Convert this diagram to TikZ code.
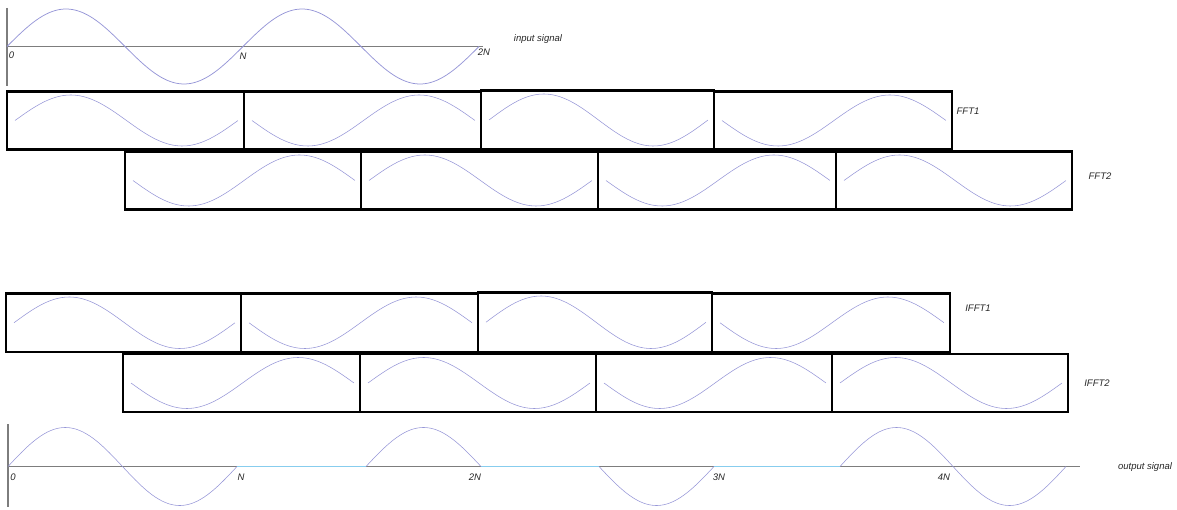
\documentclass[tikz,border=0pt]{standalone}
\usepackage{fontspec}
\setmainfont{Liberation Sans}
\definecolor{wavec}{RGB}{150,150,215}
\definecolor{axisc}{RGB}{125,125,125}
\definecolor{cyanc}{RGB}{135,205,238}
\newcommand{\wbox}[6]{%
  \node[fbox,minimum width={#3-#2},minimum height={#5-#4}] (#1) at ({(#2+#3)/2},{(#4+#5)/2}) {};
  \draw[wave] plot[domain=0:1,samples=80,smooth] ({#2+8+(#3-#2-14)*\x},{(#4+#5)/2-(#6)*((#5-#4)/2-3.5)*sin(360*\x)});
}
\begin{document}
\begin{tikzpicture}[x=1pt,y=-1pt,
  fbox/.style={draw=black,line width=2.7pt,inner sep=0pt},
  wave/.style={draw=wavec,line width=0.55pt},
  axisl/.style={draw=axisc,line width=1.1pt},
  cyanl/.style={draw=cyanc,line width=1.3pt},
  lbl/.style={font=\fontsize{9.5}{11}\selectfont\itshape,inner sep=0pt,text=black!85}]
\useasboundingbox (0,0) rectangle (1177,510);

% ---------- input signal ----------
\coordinate (iv1) at (7,8);
\coordinate (iv2) at (7,86);
\coordinate (ih1) at (7,46.5);
\coordinate (ih2) at (483,46.5);
\draw[axisl] (iv1) -- (iv2);
\draw[axisl] (ih1) -- (ih2);
\draw[wave,line width=0.75pt] plot[domain=7:479,samples=160,smooth] (\x,{46.5-37.5*sin((\x-7)/236*360)});
\node[lbl] (i0) at (11.5,55) {0};
\node[lbl] (iN) at (243,56.5) {N};
\node[lbl] (i2N) at (484,52) {2N};
\node[lbl] (itxt) at (538,39) {input signal};

% ---------- FFT1 ----------
\wbox{fa1}{7}{244}{91.5}{149.5}{1}
\wbox{fa2}{244}{481}{91.5}{149.5}{-1}
\wbox{fa3}{481}{714}{90.5}{149.5}{1}
\wbox{fa4}{714}{952}{91.5}{149.5}{-1}
\node[lbl] (fft1) at (968,111) {FFT1};

% ---------- FFT2 ----------
\wbox{fb1}{125}{361}{151.5}{209.5}{-1}
\wbox{fb2}{361}{598}{151.5}{209.5}{1}
\wbox{fb3}{598}{836}{151.5}{209.5}{-1}
\wbox{fb4}{836}{1072}{151.5}{209.5}{1}
\node[lbl] (fft2) at (1100,176.5) {FFT2};

% ---------- IFFT1 ----------
\wbox{ga1}{6}{241}{293.5}{352}{1}
\wbox{ga2}{241}{478}{293.5}{352}{-1}
\wbox{ga3}{478}{712}{292.5}{352}{1}
\wbox{ga4}{712}{950}{293.5}{352}{-1}
\node[lbl] (ifft1) at (978,308) {IFFT1};

% ---------- IFFT2 ----------
\wbox{gb1}{123}{360}{354}{412}{-1}
\wbox{gb2}{360}{596}{354}{412}{1}
\wbox{gb3}{596}{832}{354}{412}{-1}
\wbox{gb4}{832}{1068}{354}{412}{1}
\node[lbl] (ifft2) at (1097,383) {IFFT2};

% ---------- output signal ----------
\coordinate (ov1) at (8,424);
\coordinate (ov2) at (8,507);
\coordinate (oh1) at (8,466.5);
\coordinate (oh2) at (1080,466.5);
\coordinate (c1a) at (237,466.5);
\coordinate (c1b) at (366,466.5);
\coordinate (c2a) at (481,466.5);
\coordinate (c2b) at (599,466.5);
\coordinate (c3a) at (714,466.5);
\coordinate (c3b) at (840,466.5);
\draw[axisl] (ov1) -- (ov2);
\draw[axisl] (oh1) -- (oh2);
\draw[cyanl] (c1a) -- (c1b);
\draw[cyanl] (c2a) -- (c2b);
\draw[cyanl] (c3a) -- (c3b);
\draw[wave] plot[domain=8:237,samples=120,smooth] (\x,{466.5-39*sin((\x-8)/229*360)});
\draw[wave] plot[domain=366:481,samples=60,smooth] (\x,{466.5-39*sin((\x-366)/115*180)});
\draw[wave] plot[domain=599:714,samples=60,smooth] (\x,{466.5+39*sin((\x-599)/115*180)});
\draw[wave] plot[domain=840:1066,samples=120,smooth] (\x,{466.5-39*sin((\x-840)/226*360)});
\node[lbl] (o0) at (13,477.5) {0};
\node[lbl] (oN) at (241,477.5) {N};
\node[lbl] (o2N) at (475,477.5) {2N};
\node[lbl] (o3N) at (719,477) {3N};
\node[lbl] (o4N) at (944,477) {4N};
\node[lbl] (otxt) at (1145,467.5) {output signal};
\end{tikzpicture}
\end{document}
